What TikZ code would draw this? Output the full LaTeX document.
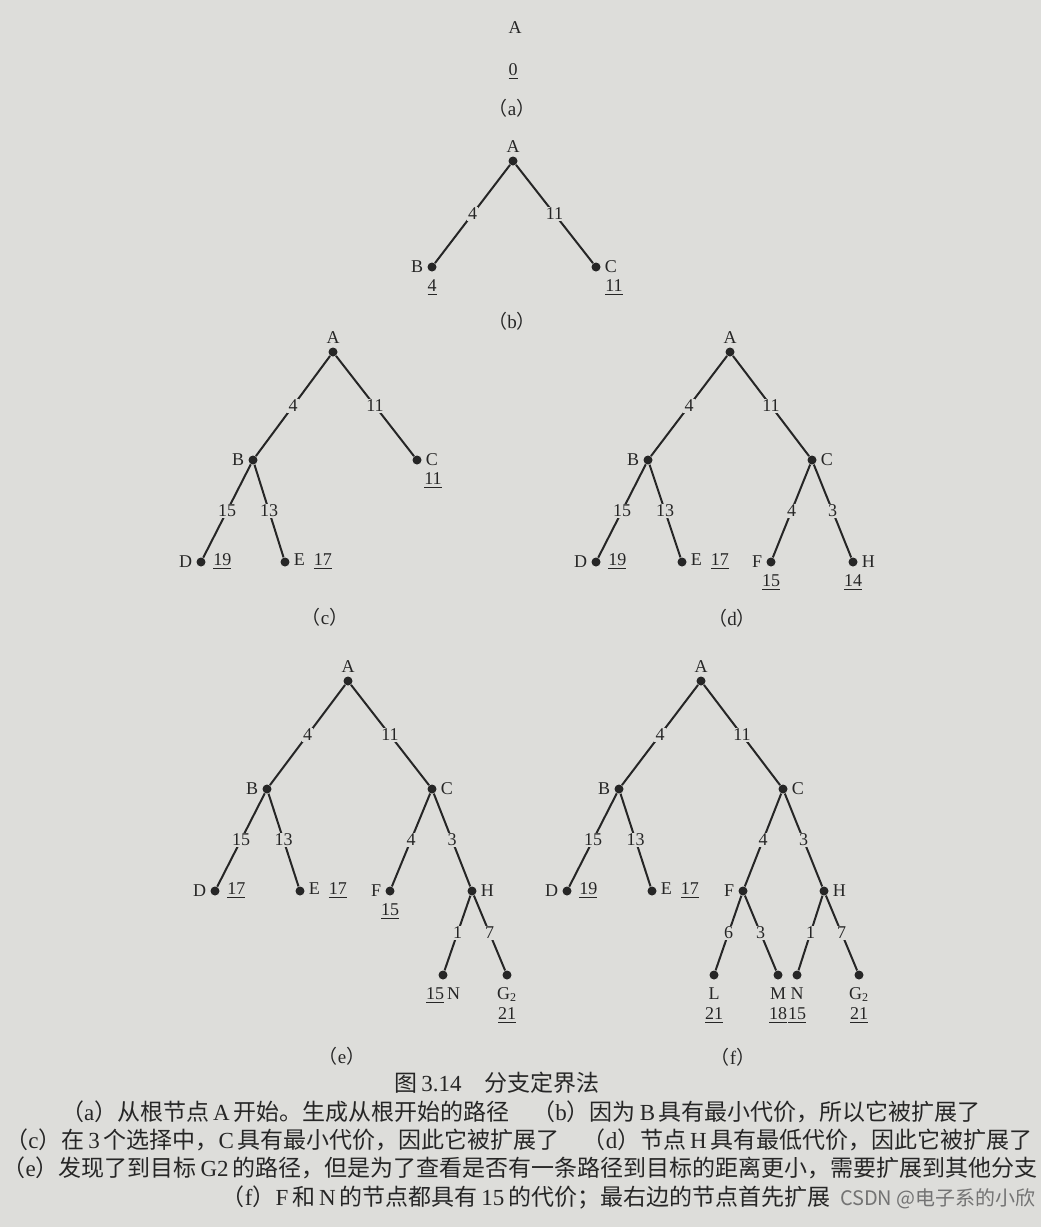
\documentclass[tikz,border=0pt]{standalone}
\usepackage{fontspec}
\setmainfont{Liberation Serif}
\newfontfamily\cjk{Noto Sans CJK SC}
\usetikzlibrary{positioning}
\definecolor{paper}{RGB}{221,221,218}
\definecolor{ink}{RGB}{38,38,38}
\newcommand{\tag}[1]{{\cjk （}#1{\cjk ）}}

\begin{document}
\begin{tikzpicture}[x=0.5pt, y=-0.5pt,
    every node/.style={text=ink, font=\fontsize{9}{10}\selectfont},
    dot/.style={circle, fill=ink, inner sep=0pt, minimum size=4.5pt},
    branch/.style={draw=ink, line width=1pt},
    w/.style={midway, fill=paper, inner sep=0.6pt},
    sub/.style={font=\fontsize{9.5}{11}\selectfont},
    capline/.style={font=\fontsize{11.5}{13}\selectfont},
    every label/.style={inner sep=0.5pt, text=ink, align=center, font=\fontsize{9}{10}\selectfont},
    label distance=1.3pt]
    \path[use as bounding box, fill=paper] (0,0) rectangle (1041,1227);

    % (a)
    \node (aA) at (515,28) {A};
    \node (a0) at (513,72) {\underline{0}};
    \node[sub] (aCap) at (512,108) {\tag{a}};

    % (b)
    \node[dot, label=above:A] (bA) at (513,161) {};
    \node[dot, label=left:B, label={[label distance=3pt]below:\underline{4}}] (bB) at (432,267) {};
    \node[dot, label=right:C, label={[xshift=9pt, yshift=-2pt]below:\underline{11}}] (bC) at (596,267) {};
    \draw[branch] (bA) -- node[w]{4} (bB);
    \draw[branch] (bA) -- node[w]{11} (bC);
    \node[sub] (bCap) at (512,321) {\tag{b}};

    % (c)
    \node[dot, label=above:A] (cA) at (333,352) {};
    \node[dot, label=left:B] (cB) at (253,460) {};
    \node[dot, label=right:C, label={[xshift=8pt, yshift=-2pt]below:\underline{11}}] (cC) at (417,460) {};
    \node[dot, label=left:D, label={[label distance=3pt]right:\underline{19}}] (cD) at (201,562) {};
    \node[dot, label=right:E\enspace\underline{17}] (cE) at (285,562) {};
    \draw[branch] (cA) -- node[w]{4} (cB);
    \draw[branch] (cA) -- node[w]{11} (cC);
    \draw[branch] (cB) -- node[w]{15} (cD);
    \draw[branch] (cB) -- node[w]{13} (cE);
    \node[sub] (cCap) at (325,617) {\tag{c}};

    % (d)
    \node[dot, label=above:A] (dA) at (730,352) {};
    \node[dot, label=left:B] (dB) at (648,460) {};
    \node[dot, label=right:C] (dC) at (812,460) {};
    \node[dot, label=left:D, label={[label distance=3pt]right:\underline{19}}] (dD) at (596,562) {};
    \node[dot, label=right:E\enspace\underline{17}] (dE) at (682,562) {};
    \node[dot, label=left:F, label={[label distance=3pt]below:\underline{15}}] (dF) at (771,562) {};
    \node[dot, label=right:H, label={[label distance=3pt]below:\underline{14}}] (dH) at (853,562) {};
    \draw[branch] (dA) -- node[w]{4} (dB);
    \draw[branch] (dA) -- node[w]{11} (dC);
    \draw[branch] (dB) -- node[w]{15} (dD);
    \draw[branch] (dB) -- node[w]{13} (dE);
    \draw[branch] (dC) -- node[w]{4} (dF);
    \draw[branch] (dC) -- node[w]{3} (dH);
    \node[sub] (dCap) at (732,618) {\tag{d}};

    % (e)
    \node[dot, label=above:A] (eA) at (348,681) {};
    \node[dot, label=left:B] (eB) at (267,789) {};
    \node[dot, label=right:C] (eC) at (432,789) {};
    \node[dot, label=left:D, label={[label distance=3pt]right:\underline{17}}] (eD) at (215,891) {};
    \node[dot, label=right:E\enspace\underline{17}] (eE) at (300,891) {};
    \node[dot, label=left:F, label={[label distance=3pt]below:\underline{15}}] (eF) at (390,891) {};
    \node[dot, label=right:H] (eH) at (472,891) {};
    \node[dot, label={[label distance=3pt]below:\underline{15}\,N}] (eN) at (443,975) {};
    \node[dot, label={[label distance=3pt]below:G\textsubscript{2}\\\underline{21}}] (eG) at (507,975) {};
    \draw[branch] (eA) -- node[w]{4} (eB);
    \draw[branch] (eA) -- node[w]{11} (eC);
    \draw[branch] (eB) -- node[w]{15} (eD);
    \draw[branch] (eB) -- node[w]{13} (eE);
    \draw[branch] (eC) -- node[w]{4} (eF);
    \draw[branch] (eC) -- node[w]{3} (eH);
    \draw[branch] (eH) -- node[w]{1} (eN);
    \draw[branch] (eH) -- node[w]{7} (eG);
    \node[sub] (eCap) at (342,1056) {\tag{e}};

    % (f)
    \node[dot, label=above:A] (fA) at (701,681) {};
    \node[dot, label=left:B] (fB) at (619,789) {};
    \node[dot, label=right:C] (fC) at (783,789) {};
    \node[dot, label=left:D, label={[label distance=3pt]right:\underline{19}}] (fD) at (567,891) {};
    \node[dot, label=right:E\enspace\underline{17}] (fE) at (652,891) {};
    \node[dot, label=left:F] (fF) at (743,891) {};
    \node[dot, label=right:H] (fH) at (824,891) {};
    \node[dot, label={[label distance=3pt]below:L\\\underline{21}}] (fL) at (714,975) {};
    \node[dot, label={[label distance=3pt]below:M\\\underline{18}}] (fM) at (778,975) {};
    \node[dot, label={[label distance=3pt]below:N\\\underline{15}}] (fN) at (797,975) {};
    \node[dot, label={[label distance=3pt]below:G\textsubscript{2}\\\underline{21}}] (fG) at (859,975) {};
    \draw[branch] (fA) -- node[w]{4} (fB);
    \draw[branch] (fA) -- node[w]{11} (fC);
    \draw[branch] (fB) -- node[w]{15} (fD);
    \draw[branch] (fB) -- node[w]{13} (fE);
    \draw[branch] (fC) -- node[w]{4} (fF);
    \draw[branch] (fC) -- node[w]{3} (fH);
    \draw[branch] (fF) -- node[w]{6} (fL);
    \draw[branch] (fF) -- node[w]{3} (fM);
    \draw[branch] (fH) -- node[w]{1} (fN);
    \draw[branch] (fH) -- node[w]{7} (fG);
    \node[sub] (fCap) at (733,1057) {\tag{f}};

    % figure caption
    \node[capline] (title) at (497,1083) {{\cjk 图}\,3.14\quad{\cjk 分支定界法}};
    \node[capline] (line1) at (521,1112) {\tag{a}{\cjk 从根节点}\,A\,{\cjk 开始。生成从根开始的路径}\quad\tag{b}{\cjk 因为}\,B\,{\cjk 具有最小代价，所以它被扩展了}};
    \node[capline] (line2) at (519,1140) {\tag{c}{\cjk 在}\,3\,{\cjk 个选择中，}C\,{\cjk 具有最小代价，因此它被扩展了}\quad\tag{d}{\cjk 节点}\,H\,{\cjk 具有最低代价，因此它被扩展了}};
    \node[capline] (line3) at (520,1168) {\tag{e}{\cjk 发现了到目标}\,G2\,{\cjk 的路径，但是为了查看是否有一条路径到目标的距离更小，需要扩展到其他分支}};
    \node[capline] (line4) at (526,1197) {\tag{f}F\,{\cjk 和}\,N\,{\cjk 的节点都具有}\,15\,{\cjk 的代价；最右边的节点首先扩展}};
    \node[font=\cjk\fontsize{10}{12}\selectfont, text=black!55, anchor=west] (mark) at (833,1199) {CSDN @电子系的小欣};
\end{tikzpicture}
\end{document}
